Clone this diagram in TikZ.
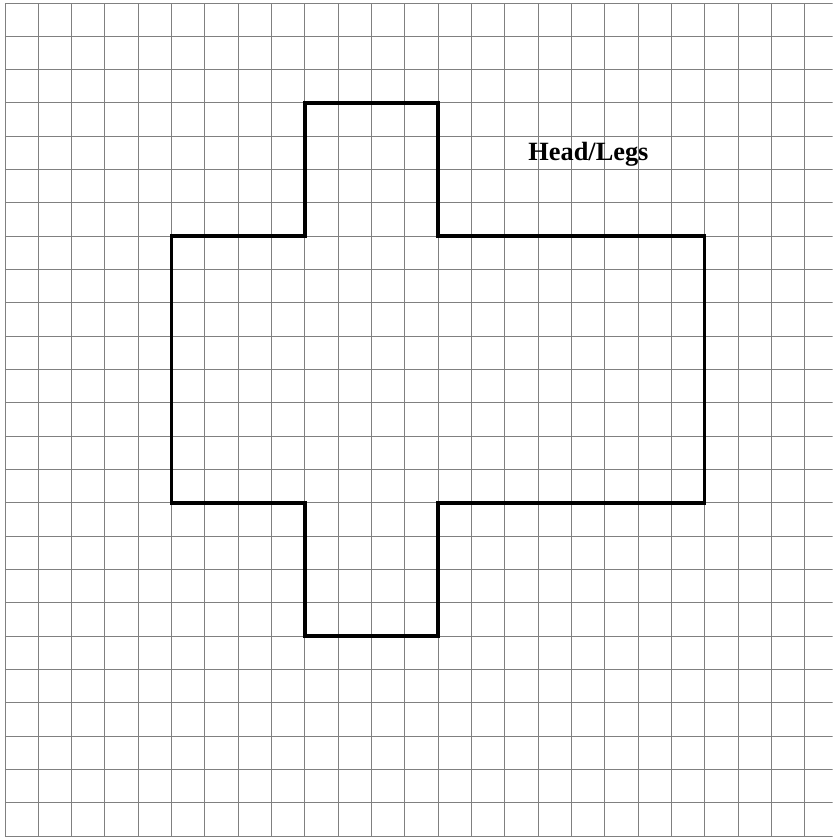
\documentclass[tikz,border=0pt]{standalone}
\usepackage{fontspec}
\setmainfont{Liberation Serif}
\usepackage{tikz}

\tikzset{
  gridline/.style={gray, line width=0.8pt},
  outline/.style={black, line width=3pt, line join=miter},
  labeltext/.style={font=\bfseries\fontsize{22.5}{26}\selectfont, anchor=base}
}

\begin{document}
\begin{tikzpicture}
    \useasboundingbox (-0.15,-0.03) rectangle (24.84,25.09);

    %% drawing the grid
    \clip (-0.15,-0.03) rectangle (24.84,25.09);
    \draw[gridline] (0,0) grid (25,25);

    %% drawing the cross
    \draw[outline] (9,25-3) -- (13,25-3) -- (13,25-7) -- (21,25-7)
      -- (21,25-15) -- (13,25-15) -- (13,25-19) -- (9,25-19)
      -- (9,25-15) -- (5,25-15) -- (5,25-7) -- (9,25-7) -- cycle;

    %% label
    \node[labeltext] (headlegs) at (17.51,20.28) {Head/Legs};
\end{tikzpicture}
\end{document}
